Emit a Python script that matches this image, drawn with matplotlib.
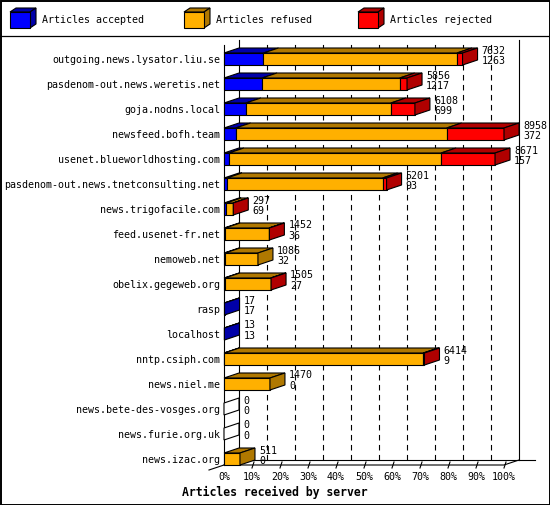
import numpy as np
import matplotlib
matplotlib.use("Agg")
import matplotlib.pyplot as plt
from matplotlib.patches import Polygon, Rectangle

# data (top number = total, bottom = accepted)
servers = [
    "outgoing.news.lysator.liu.se",
    "pasdenom-out.news.weretis.net",
    "goja.nodns.local",
    "newsfeed.bofh.team",
    "usenet.blueworldhosting.com",
    "pasdenom-out.news.tnetconsulting.net",
    "news.trigofacile.com",
    "feed.usenet-fr.net",
    "nemoweb.net",
    "obelix.gegeweb.org",
    "rasp",
    "localhost",
    "nntp.csiph.com",
    "news.niel.me",
    "news.bete-des-vosges.org",
    "news.furie.org.uk",
    "news.izac.org",
]
accepted = [1263, 1217, 699, 372, 157, 93, 69, 36, 32, 27, 17, 13, 9, 0, 0, 0, 0]
refused = [6189, 4404, 4639, 6752, 6787, 4980, 220, 1406, 1054, 1468, 0, 0, 6365, 1470, 0, 0, 511]
rejected = [180, 235, 770, 1834, 1727, 128, 8, 10, 0, 10, 0, 0, 40, 0, 0, 0, 0]

series_names = ["Articles accepted", "Articles refused", "Articles rejected"]
front_colors = ["#0000ff", "#ffb000", "#ff0000"]
shade_colors = ["#0000a8", "#b07800", "#b00000"]

xticks = [0, 10, 20, 30, 40, 50, 60, 70, 80, 90, 100]
xtick_labels = ["0%", "10%", "20%", "30%", "40%", "50%", "60%", "70%", "80%", "90%", "100%"]

plt.rcParams['font.family'] = ['DejaVu Sans Mono']
plt.rcParams['font.size'] = 7.2

W, H = 550, 505
fig = plt.figure(figsize=(W / 100, H / 100), dpi=100)

# frame + legend, in pixel units
frame = fig.add_axes([0, 0, 1, 1])
frame.set_xlim(0, W)
frame.set_ylim(H, 0)
frame.axis("off")
frame.add_patch(Rectangle((0.5, 0.5), W - 1, H - 1, fill=False, ec="k", lw=1.4))
frame.plot([0, W], [35.5, 35.5], color="k", lw=0.9)
for k, x in enumerate([10, 184, 358]):
    frame.add_patch(Polygon([(x, 12), (x + 20, 12), (x + 26, 8), (x + 6, 8)],
                            fc=shade_colors[k], ec="k", lw=0.8))
    frame.add_patch(Polygon([(x + 20, 12), (x + 20, 28), (x + 26, 24), (x + 26, 8)],
                            fc=shade_colors[k], ec="k", lw=0.8))
    frame.add_patch(Rectangle((x, 12), 20, 16, fc=front_colors[k], ec="k", lw=0.8))
    frame.text(x + 32, 20, series_names[k], va="center", ha="left")

# main chart: x in % of the largest server total, y in rows
PX = 2.8      # pixels per percent
ROW = 25.0    # pixels per row
ybot = (465 - 59) / ROW
ytop = (35 - 59) / ROW
ax = fig.add_axes([224 / W, (H - 465) / H, 280 / W, 430 / H])
ax.set_xlim(0, 100)
ax.set_ylim(ybot, ytop)
for s in ax.spines.values():
    s.set_visible(False)
ax.patch.set_alpha(0)

dx = 15 / PX
dy = -5 / ROW
hh = 6 / ROW
lw = 0.8

stack = np.array([accepted, refused, rejected], dtype=float)
totals = stack.sum(axis=0)
pct = stack * 100 / totals.max()

# back wall and grid
ax.plot([dx, dx], [ybot + dy, (40 - 59) / ROW], color="k", lw=lw, clip_on=False)
ax.plot([100 + dx, 100 + dx], [ybot + dy, (40 - 59) / ROW], color="k", lw=lw, clip_on=False)
for t in xticks[1:-1]:
    ax.plot([t + dx, t + dx], [ybot + dy, (40 - 59) / ROW], color="k", lw=lw,
            dashes=(5, 4), clip_on=False)
ax.plot([dx, (535 - 224) / PX], [ybot + dy, ybot + dy], color="k", lw=lw, clip_on=False)
# front axes
ax.plot([0, 0], [ybot, (45 - 59) / ROW], color="k", lw=lw, clip_on=False)
ax.plot([0, 100, 100 + dx], [ybot, ybot, ybot + dy], color="k", lw=lw, clip_on=False)
ax.plot([-dx, dx], [ybot - dy, ybot + dy], color="k", lw=lw, clip_on=False)
for t in xticks[1:]:
    ax.plot([t, t + 2 / PX], [ybot + 3 / ROW, ybot - 3 / ROW], color="k", lw=lw, clip_on=False)

# 3d bars
for i in range(len(servers)):
    c = i
    left = 0.0
    last = None
    for k in range(3):
        w = pct[k][i]
        if w <= 0:
            continue
        x0, x1 = left, left + w
        ax.add_patch(Polygon([(x0, c - hh), (x1, c - hh), (x1 + dx, c - hh + dy), (x0 + dx, c - hh + dy)],
                             fc=shade_colors[k], ec="k", lw=lw, zorder=3, clip_on=False))
        ax.add_patch(Rectangle((x0, c - hh), w, 2 * hh, fc=front_colors[k], ec="k", lw=lw,
                               zorder=3, clip_on=False))
        left = x1
        last = k
    side = shade_colors[last] if last is not None else "white"
    ax.add_patch(Polygon([(left, c - hh), (left, c + hh), (left + dx, c + hh + dy), (left + dx, c - hh + dy)],
                         fc=side, ec="k", lw=lw, zorder=3, clip_on=False))
    xt = left + dx + 4 / PX
    ax.text(xt, c - 8.5 / ROW, "%d" % totals[i], va="center", ha="left", zorder=4, clip_on=False)
    ax.text(xt, c + 2.2 / ROW, "%d" % accepted[i], va="center", ha="left", zorder=4, clip_on=False)

ax.set_yticks(range(len(servers)), labels=servers)
ax.set_xticks(xticks, labels=xtick_labels)
ax.tick_params(axis="y", length=0, pad=2.9)
ax.tick_params(axis="x", length=0, pad=5.4)

fig.text(275 / W, 1 - 492 / H, "Articles received by server", ha="center", va="center",
         weight="bold", size=8.3)

fig.savefig("out.png", dpi=100)
